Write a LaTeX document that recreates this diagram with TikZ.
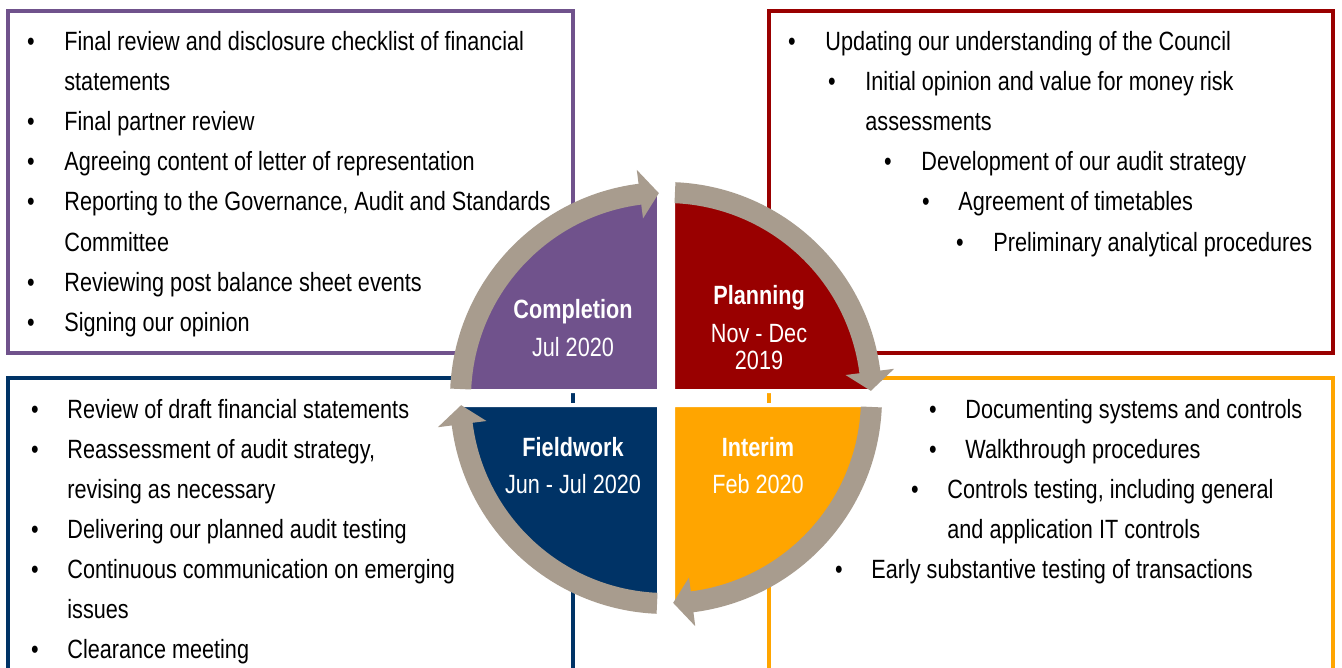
\documentclass[tikz,border=0pt]{standalone}
\usepackage{fontspec}
\setmainfont{Liberation Sans}[FakeStretch=0.82]
\usetikzlibrary{calc}
\definecolor{cpurple}{HTML}{70528C}
\definecolor{cred}{HTML}{990000}
\definecolor{cnavy}{HTML}{003366}
\definecolor{corange}{HTML}{FFA500}
\definecolor{cring}{HTML}{A89C8E}
\newcommand{\bodyfont}{\fontsize{13.2pt}{20pt}\selectfont}
\begin{document}
\begin{tikzpicture}[x=0.5pt,y=0.5pt,
  frame/.style={line width=2pt},
  txt/.style={anchor=base west, inner sep=0pt, font=\bodyfont},
  bul/.style={anchor=base, inner sep=0pt, font=\bodyfont},
  qtitle/.style={anchor=base, inner sep=0pt, text=white, font=\bodyfont\bfseries},
  qsub/.style={anchor=base, inner sep=0pt, text=white, font=\bodyfont},
  quad/.style={draw=white, line width=2pt},
  ringpart/.style={fill=cring}]
\useasboundingbox (0,0) rectangle (1342,-668);
\clip (0,0) rectangle (1342,-668);
\fill[white] (0,0) rectangle (1342,-668);
% frames
\draw[frame, cpurple] (8,-11) rectangle (573,-353);
\draw[frame, cred] (769,-11) rectangle (1333,-353);
\draw[frame, cnavy] (8,-378) rectangle (573,-720);
\draw[frame, corange] (769,-378) rectangle (1333,-720);
% quadrants
\coordinate (C) at (666,-398);
\filldraw[quad, fill=cpurple] (659,-391) -- ++(180:198) arc[start angle=180, end angle=90, radius=198] -- cycle;
\filldraw[quad, fill=cred] (673,-391) -- ++(90:198) arc[start angle=90, end angle=0, radius=198] -- cycle;
\filldraw[quad, fill=corange] (673,-405) -- ++(0:198) arc[start angle=0, end angle=-90, radius=198] -- cycle;
\filldraw[quad, fill=cnavy] (659,-405) -- ++(-90:198) arc[start angle=-90, end angle=-180, radius=198] -- cycle;
% ring arrows
\foreach \r in {0,90,180,270}{
  \fill[ringpart] ($(C)+(177.5-\r:216)$) arc[start angle=177.5-\r, end angle=97.3-\r, radius=216]
    -- ($(C)+(97.3-\r:230)$) -- ($(C)+(92-\r:205)$) -- ($(C)+(97.3-\r:181)$)
    -- ($(C)+(97.3-\r:195)$) arc[start angle=97.3-\r, end angle=177.5-\r, radius=195] -- cycle;
}
% quadrant labels
\node[qtitle] (comp) at (573,-318) {Completion};
\node[qsub] (compd) at (573,-356) {Jul 2020};
\node[qtitle] (plan) at (759,-304) {Planning};
\node[qsub] (pland1) at (759,-342) {Nov - Dec};
\node[qsub] (pland2) at (759,-369) {2019};
\node[qtitle] (field) at (573,-456) {Fieldwork};
\node[qsub] (fieldd) at (573,-493) {Jun - Jul 2020};
\node[qtitle] (inter) at (758,-456) {Interim};
\node[qsub] (interd) at (758,-493) {Feb 2020};
% top-left list
\node[bul] (tlb1) at (31,-51) {•};
\node[txt] (tl1) at (64,-51) {Final review and disclosure checklist of financial};
\node[txt] (tl1b) at (64,-91) {statements};
\node[bul] (tlb2) at (31,-131) {•};
\node[txt] (tl2) at (64,-131) {Final partner review};
\node[bul] (tlb3) at (31,-171) {•};
\node[txt] (tl3) at (64,-171) {Agreeing content of letter of representation};
\node[bul] (tlb4) at (31,-211) {•};
\node[txt] (tl4) at (64,-211) {Reporting to the Governance, Audit and Standards};
\node[txt] (tl4b) at (64,-251) {Committee};
\node[bul] (tlb5) at (31,-291) {•};
\node[txt] (tl5) at (64,-291) {Reviewing post balance sheet events};
\node[bul] (tlb6) at (31,-331) {•};
\node[txt] (tl6) at (64,-331) {Signing our opinion};
% top-right list
\node[bul] (trb1) at (792,-51) {•};
\node[txt] (tr1) at (825,-51) {Updating our understanding of the Council};
\node[bul] (trb2) at (832,-91) {•};
\node[txt] (tr2) at (865,-91) {Initial opinion and value for money risk};
\node[txt] (tr2b) at (865,-131) {assessments};
\node[bul] (trb3) at (888,-171) {•};
\node[txt] (tr3) at (921,-171) {Development of our audit strategy};
\node[bul] (trb4) at (926,-211) {•};
\node[txt] (tr4) at (958,-211) {Agreement of timetables};
\node[bul] (trb5) at (960,-251) {•};
\node[txt] (tr5) at (993,-251) {Preliminary analytical procedures};
% bottom-left list
\node[bul] (blb1) at (35,-418) {•};
\node[txt] (bl1) at (67,-418) {Review of draft financial statements};
\node[bul] (blb2) at (35,-458) {•};
\node[txt] (bl2) at (67,-458) {Reassessment of audit strategy,};
\node[txt] (bl2b) at (67,-498) {revising as necessary};
\node[bul] (blb3) at (35,-538) {•};
\node[txt] (bl3) at (67,-538) {Delivering our planned audit testing};
\node[bul] (blb4) at (35,-578) {•};
\node[txt] (bl4) at (67,-578) {Continuous communication on emerging};
\node[txt] (bl4b) at (67,-618) {issues};
\node[bul] (blb5) at (35,-658) {•};
\node[txt] (bl5) at (67,-658) {Clearance meeting};
% bottom-right list
\node[bul] (brb1) at (933,-418) {•};
\node[txt] (br1) at (965,-418) {Documenting systems and controls};
\node[bul] (brb2) at (933,-458) {•};
\node[txt] (br2) at (965,-458) {Walkthrough procedures};
\node[bul] (brb3) at (915,-498) {•};
\node[txt] (br3) at (947,-498) {Controls testing, including general};
\node[txt] (br3b) at (947,-538) {and application IT controls};
\node[bul] (brb4) at (839,-578) {•};
\node[txt] (br4) at (871,-578) {Early substantive testing of transactions};
\end{tikzpicture}
\end{document}
